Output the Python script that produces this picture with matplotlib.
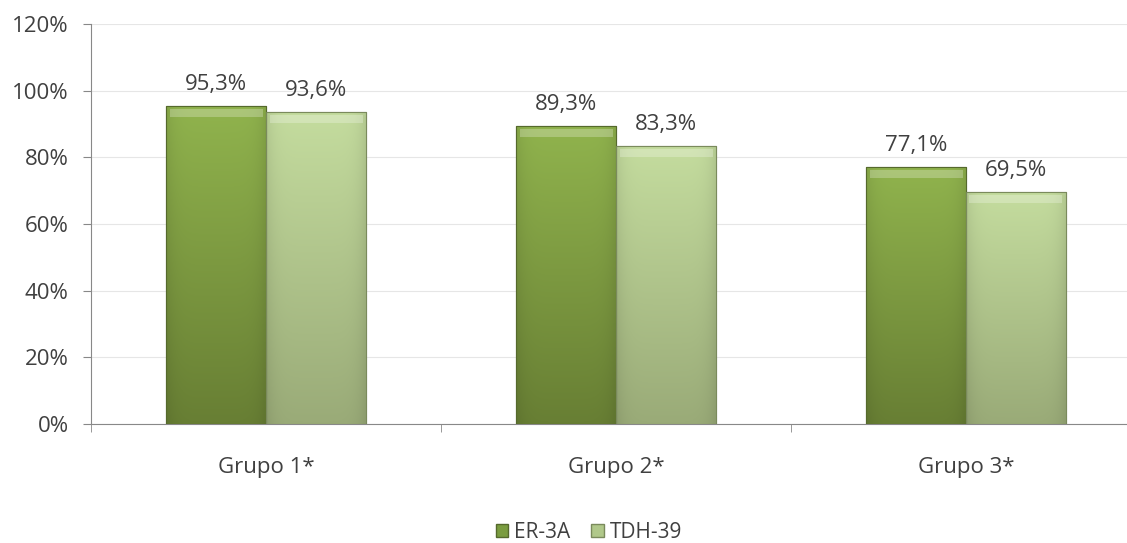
import numpy as np
import matplotlib.pyplot as plt
from matplotlib.patches import Rectangle

grupos = ["Grupo 1*", "Grupo 2*", "Grupo 3*"]
er3a = [95.3, 89.3, 77.1]
tdh39 = [93.6, 83.3, 69.5]
series = ["ER-3A", "TDH-39"]

plt.rcParams['font.family'] = ['Open Sans', 'DejaVu Sans']
txt = '#404040'
fs = 16

fig = plt.figure(figsize=(11.27, 5.43), dpi=100)
# plot area runs a little past the right edge, as in the reference
ax = fig.add_axes([91/1127, 1 - 424/543, (1141 - 91)/1127, (424 - 24)/543])

x = np.arange(len(grupos))
w = 100 / 350

def grad_bar(xs, vals, top, bottom, edge):
    bars = ax.bar(xs, vals, w, color=bottom, edgecolor=edge, linewidth=0.8, zorder=3)
    c0 = np.array(plt.matplotlib.colors.to_rgb(top))
    c1 = np.array(plt.matplotlib.colors.to_rgb(bottom))
    for b in bars:
        # vertical gradient, slightly darker along the sides
        gy = np.linspace(0, 1, 64).reshape(-1, 1, 1)
        gx = np.abs(np.linspace(-1, 1, 32)).reshape(1, -1, 1)
        img = c0 + (c1 - c0) * gy
        img = img * (1 - 0.08 * gx ** 6)
        img = np.clip(img, 0, 1)
        x0, y0 = b.get_x(), b.get_y()
        im = ax.imshow(img, extent=[x0, x0 + b.get_width(), y0, y0 + b.get_height()],
                       aspect='auto', zorder=3.5, interpolation='bilinear')
        im.set_clip_path(b)
        # bevel highlight at top
        ax.add_patch(Rectangle((x0 + 0.01, b.get_height() - 3.2), b.get_width() - 0.02, 2.4,
                               facecolor='white', alpha=0.25, edgecolor='none', zorder=3.8))
        ax.add_patch(Rectangle((x0, y0), b.get_width(), b.get_height(), facecolor='none',
                               edgecolor=edge, linewidth=0.8, zorder=4))
    return bars

b1 = grad_bar(x - w / 2, er3a, '#90b34d', '#687f34', '#55692c')
b2 = grad_bar(x + w / 2, tdh39, '#c4dc9e', '#9aab78', '#7a8a5c')

for bars, vals in ((b1, er3a), (b2, tdh39)):
    for b, v in zip(bars, vals):
        ax.annotate(f"{v:.1f}%".replace('.', ','), (b.get_x() + b.get_width() / 2, v),
                    xytext=(0, 8), textcoords='offset points', ha='center', va='bottom',
                    fontsize=fs, color=txt)

ax.set_xlim(-0.5, len(grupos) - 0.5)
ax.set_ylim(0, 120)
ax.set_yticks(np.arange(0, 121, 20))
ax.set_yticklabels([f"{t}%" for t in range(0, 121, 20)], fontsize=fs, color=txt)
ax.set_xticks(x)
ax.set_xticklabels(grupos, fontsize=fs, color=txt)
ax.set_xticks(np.arange(-0.5, len(grupos)), minor=True)
ax.tick_params(axis='x', which='major', length=0, pad=24)
ax.tick_params(axis='x', which='minor', length=6, color='#888888')
ax.tick_params(axis='y', length=6, color='#888888', pad=10)
ax.grid(axis='y', color='#e6e6e6', linewidth=0.8, zorder=0)
for s in ['top', 'right']:
    ax.spines[s].set_visible(False)
for s in ['left', 'bottom']:
    ax.spines[s].set_color('#888888')
ax.set_axisbelow(True)

handles = [Rectangle((0, 0), 1, 1, facecolor='#7a9c3f', edgecolor='#55692c'),
           Rectangle((0, 0), 1, 1, facecolor='#b0c88a', edgecolor='#7a8a5c')]
fig.legend(handles, series, loc='center', bbox_to_anchor=(589/1127, 1 - 532/543), ncol=2,
           frameon=False, fontsize=15, handlelength=0.6, handleheight=0.6,
           handletextpad=0.3, columnspacing=1.0, labelcolor=txt)

fig.savefig('out.png', dpi=100)
